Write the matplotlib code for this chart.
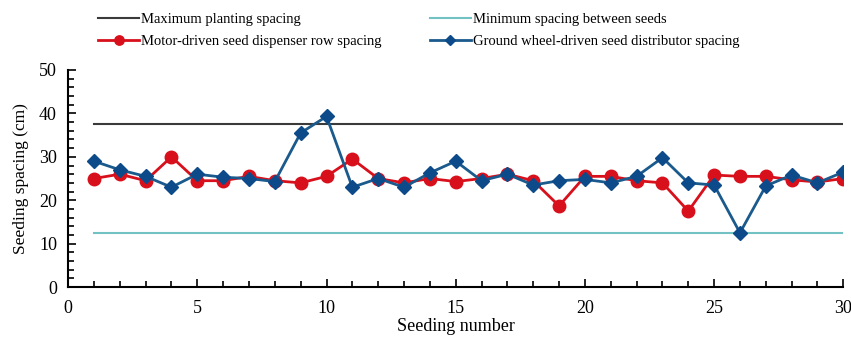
import matplotlib.pyplot as plt
from matplotlib.ticker import MultipleLocator

plt.rcParams['font.family'] = ['Liberation Serif', 'DejaVu Serif']

seeding = list(range(1, 31))
max_spacing = 37.5
min_spacing = 12.5
motor = [25, 26, 24.5, 30, 24.5, 24.5, 25.5, 24.5, 24, 25.5,
         29.5, 25, 24, 25, 24.3, 25, 26, 24.5, 18.7, 25.5,
         25.5, 24.5, 24, 17.5, 25.8, 25.5, 25.5, 24.7, 24.2, 25]
ground = [29, 27, 25.5, 23, 26, 25.3, 25, 24.3, 35.5, 39.3,
          23, 25, 23, 26.3, 29, 24.5, 26, 23.5, 24.5, 24.8,
          24, 25.5, 29.8, 24, 23.5, 12.5, 23.3, 25.8, 24, 26.5]

fig = plt.figure(figsize=(8.51, 3.43), dpi=100)
ax = fig.add_axes([0.080, 0.163, 0.911, 0.633])

h_max, = ax.plot(seeding, [max_spacing] * len(seeding), color='#3a3a3a', lw=1.5,
                 label='Maximum planting spacing')
h_min, = ax.plot(seeding, [min_spacing] * len(seeding), color='#72c2c4', lw=1.5,
                 label='Minimum spacing between seeds')
h_mot, = ax.plot(seeding, motor, color='#d8101c', lw=2, marker='o', ms=9,
                 label='Motor-driven seed dispenser row spacing')
h_gnd, = ax.plot(seeding, ground, color='#1a5a8c', lw=2, marker='D', ms=7,
                 markerfacecolor='#0d4a8a', markeredgecolor='#0d4a8a',
                 label='Ground wheel-driven seed distributor spacing')

ax.set_xlim(0, 30)
ax.set_ylim(0, 50)
ax.xaxis.set_major_locator(MultipleLocator(5))
ax.xaxis.set_minor_locator(MultipleLocator(1))
ax.yaxis.set_major_locator(MultipleLocator(10))
ax.yaxis.set_minor_locator(MultipleLocator(2))
ax.tick_params(which='both', direction='in', labelsize=13, width=1.2)
ax.tick_params(which='major', length=6)
ax.tick_params(which='minor', length=4)
ax.tick_params(axis='x', which='major', pad=9)
ax.tick_params(axis='y', which='major', pad=8)
for s in ['top', 'right']:
    ax.spines[s].set_visible(False)
for s in ['left', 'bottom']:
    ax.spines[s].set_linewidth(1.5)

ax.set_xlabel('Seeding number', fontsize=13, labelpad=1)
ax.set_ylabel('Seeding spacing (cm)', fontsize=12.5, labelpad=7)

handles = [h_max, h_mot, h_min, h_gnd]
fig.legend(handles, [h.get_label() for h in handles],
           loc='upper left', bbox_to_anchor=(0.100, 1.0), ncol=2, frameon=False,
           fontsize=10.5, handlelength=2.8, columnspacing=3.3, labelspacing=0.6,
           handletextpad=0.15, markerscale=0.75)

fig.savefig('out.png', dpi=100)
